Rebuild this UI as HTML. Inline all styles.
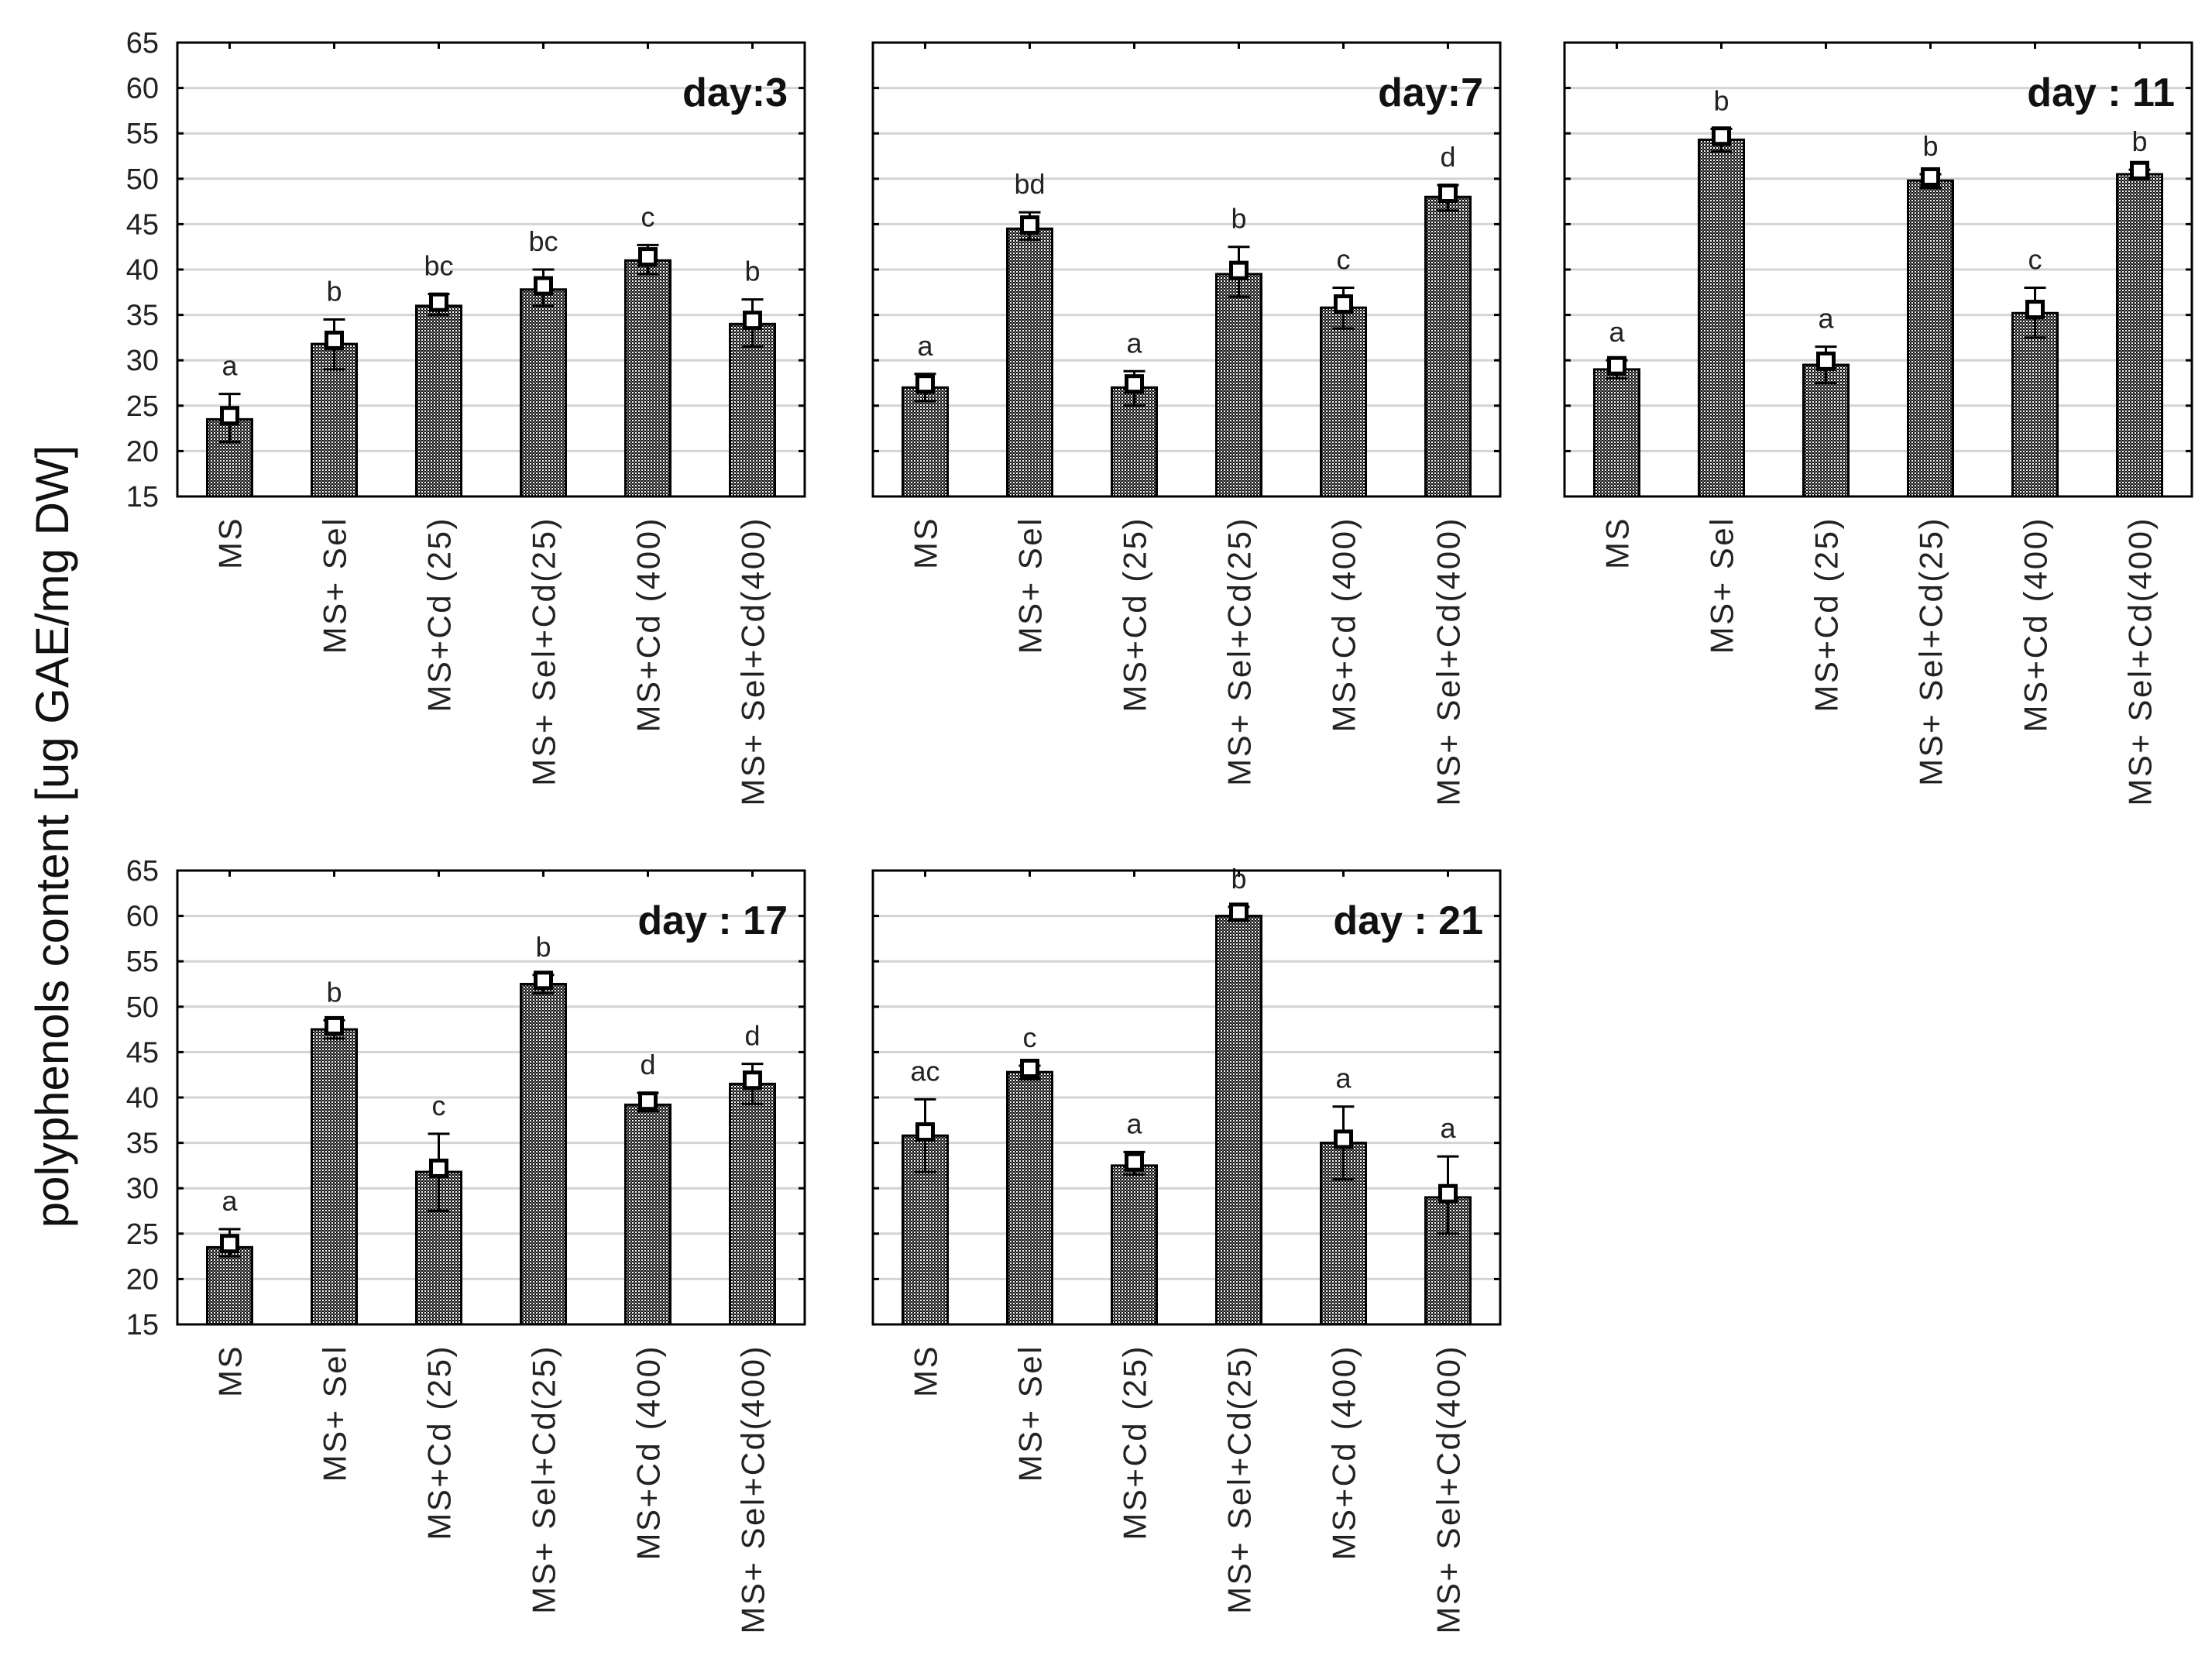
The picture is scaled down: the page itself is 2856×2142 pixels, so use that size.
<!DOCTYPE html>
<html><head><meta charset="utf-8"><style>
html,body{margin:0;padding:0;background:#fff;}
svg{display:block;font-family:"Liberation Sans",Arial,sans-serif;}
</style></head><body>
<svg id="chart" width="2856" height="2142" viewBox="0 0 2856 2142" xmlns="http://www.w3.org/2000/svg">
<defs>
<pattern id="hatch" width="4" height="4" patternUnits="userSpaceOnUse">
<rect width="4" height="4" fill="#fff"/>
<rect x="0" y="0" width="2" height="2" fill="#111"/>
<rect x="2" y="2" width="2" height="2" fill="#111"/>
<rect x="2" y="0" width="2" height="2" fill="#666"/>
</pattern>
</defs>
<text transform="translate(88,1080) rotate(-90)" text-anchor="middle" font-size="60" fill="#111">polyphenols content [ug GAE/mg DW]</text>
</svg>
<script>
const categories = ["MS","MS+ Sel","MS+Cd (25)","MS+ Sel+Cd(25)","MS+Cd (400)","MS+ Sel+Cd(400)"];
const yTicks = [15,20,25,30,35,40,45,50,55,60,65];
const panelTitles = ["day:3","day:7","day : 11","day : 17","day : 21"];
const day3Means = [23.5,31.8,36.0,37.8,41.0,34.0];
const day3Low = [21.0,29.0,35.0,36.0,39.5,31.5];
const day3High = [26.3,34.5,37.3,40.0,42.7,36.7];
const day3Letters = ["a","b","bc","bc","c","b"];
const day7Means = [27.0,44.5,27.0,39.5,35.8,48.0];
const day7Low = [25.5,43.3,25.0,37.0,33.5,46.5];
const day7High = [28.5,46.3,28.8,42.5,38.0,49.3];
const day7Letters = ["a","bd","a","b","c","d"];
const day11Means = [29.0,54.3,29.5,49.8,35.2,50.5];
const day11Low = [28.0,53.0,27.5,49.0,32.5,50.0];
const day11High = [30.0,55.5,31.5,50.5,38.0,51.0];
const day11Letters = ["a","b","a","b","c","b"];
const day17Means = [23.5,47.5,31.8,52.5,39.2,41.5];
const day17Low = [22.5,46.5,27.5,51.5,38.5,39.3];
const day17High = [25.5,48.5,36.0,53.5,40.5,43.7];
const day17Letters = ["a","b","c","b","d","d"];
const day21Means = [35.8,42.8,32.5,60.0,35.0,29.0];
const day21Low = [31.8,42.0,31.5,59.5,31.0,25.0];
const day21High = [39.8,43.5,34.0,61.0,39.0,33.5];
const day21Letters = ["ac","c","a","b","a","a"];

const panels = [
 {x:229,y:55,m:day3Means,lo:day3Low,hi:day3High,l:day3Letters,t:panelTitles[0],ticks:true},
 {x:1127,y:55,m:day7Means,lo:day7Low,hi:day7High,l:day7Letters,t:panelTitles[1],ticks:false},
 {x:2020,y:55,m:day11Means,lo:day11Low,hi:day11High,l:day11Letters,t:panelTitles[2],ticks:false},
 {x:229,y:1124,m:day17Means,lo:day17Low,hi:day17High,l:day17Letters,t:panelTitles[3],ticks:true},
 {x:1127,y:1124,m:day21Means,lo:day21Low,hi:day21High,l:day21Letters,t:panelTitles[4],ticks:false}
];
const W=810,H=586,NS="http://www.w3.org/2000/svg";
const svg=document.getElementById('chart');
function mk(tag,attrs,parent){const e=document.createElementNS(NS,tag);for(const k in attrs)e.setAttribute(k,attrs[k]);(parent||svg).appendChild(e);return e;}
panels.forEach((p,pi)=>{
 const g=mk('g',{});
 
 
 const ys=v=>p.y+H-(v-15)/50*H;
 const band=W/categories.length;
 const xc=i=>p.x+(i+0.5)*band;
 yTicks.forEach(v=>{
  if(v>15&&v<65){const gl=mk('line',{x1:p.x,x2:p.x+W,y1:ys(v),y2:ys(v),stroke:'#d4d4d4','stroke-width':3},g);
   }
  mk('line',{x1:p.x,x2:p.x+8,y1:ys(v),y2:ys(v),stroke:'#000','stroke-width':3},g);
  mk('line',{x1:p.x+W-8,x2:p.x+W,y1:ys(v),y2:ys(v),stroke:'#000','stroke-width':3},g);
  if(p.ticks){const t=mk('text',{x:p.x-24,y:ys(v)+13,'text-anchor':'end','font-size':38,fill:'#222'},g);t.textContent=v;
   }
 });
 categories.forEach((c,i)=>{
  const x=xc(i),bw=58;
  mk('line',{x1:x,x2:x,y1:p.y,y2:p.y+8,stroke:'#000','stroke-width':3},g);
  const b=mk('rect',{x:x-bw/2,y:ys(p.m[i]),width:bw,height:ys(15)-ys(p.m[i]),fill:'url(#hatch)',stroke:'#000','stroke-width':3},g);
  
  mk('line',{x1:x,x2:x,y1:ys(p.hi[i]),y2:ys(p.lo[i]),stroke:'#000','stroke-width':3},g);
  mk('line',{x1:x-14,x2:x+14,y1:ys(p.hi[i]),y2:ys(p.hi[i]),stroke:'#000','stroke-width':3},g);
  mk('line',{x1:x-14,x2:x+14,y1:ys(p.lo[i]),y2:ys(p.lo[i]),stroke:'#000','stroke-width':3},g);
  const mkr=mk('rect',{x:x-10,y:ys(p.m[i]+0.4)-10,width:20,height:20,fill:'#fff',stroke:'#000','stroke-width':5},g);
  
  const lt=mk('text',{x:x,y:ys(p.hi[i])-24,'text-anchor':'middle','font-size':36,fill:'#222'},g);lt.textContent=p.l[i];
  
  const cl=mk('text',{transform:`translate(${x+15},${p.y+H+26}) rotate(-90)`,'text-anchor':'end','font-size':42,'letter-spacing':2.5,fill:'#222'},g);cl.textContent=c;
  
 });
 const fr=mk('rect',{x:p.x,y:p.y,width:W,height:H,fill:'none',stroke:'#000','stroke-width':3},g);
 
 const tt=mk('text',{x:p.x+W-22,y:p.y+82,'text-anchor':'end','font-size':52,'font-weight':'bold',fill:'#111'},g);tt.textContent=p.t;
 
});
</script>
</body></html>
